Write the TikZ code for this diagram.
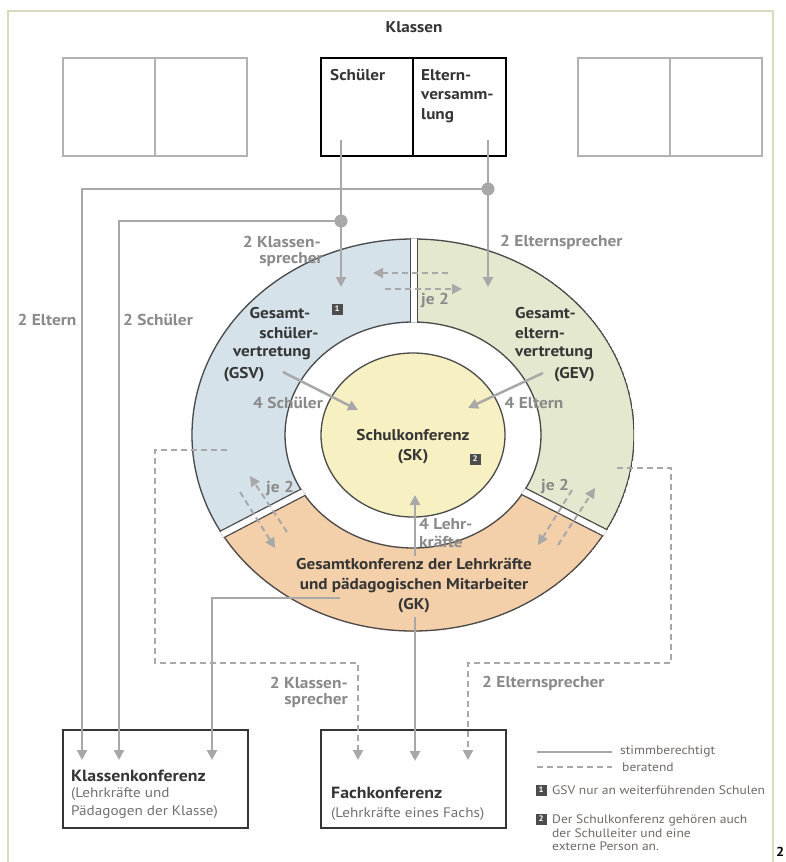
\documentclass[tikz,border=0pt]{standalone}
\usepackage{fontspec}
\setmainfont{PT Sans}[FakeStretch=1.1]
\usetikzlibrary{arrows.meta}
\definecolor{cFrame}{HTML}{DADAC0}
\definecolor{cTxt}{HTML}{353535}
\definecolor{cLab}{HTML}{8A8A8A}
\definecolor{cConn}{HTML}{A8A8A8}
\definecolor{cRing}{HTML}{4A4A4A}
\definecolor{cGSV}{HTML}{D6E2E9}
\definecolor{cGEV}{HTML}{E3E8CE}
\definecolor{cGK}{HTML}{F3CFAA}
\definecolor{cSK}{HTML}{F7F0C2}
\definecolor{cLeg}{HTML}{6E6A66}
\definecolor{cSub}{HTML}{707070}
\definecolor{cGrayBox}{HTML}{B2B2B2}
\definecolor{cSq}{HTML}{4D4D4D}
\begin{document}
\begin{tikzpicture}[x=1pt,y=1pt,
  solidc/.style={draw=cConn, line width=2.5pt},
  dashc/.style={draw=cConn, line width=2pt, dash pattern=on 6pt off 4pt},
  tipc/.style={-{Triangle[length=10pt,width=10pt]}},
  bl/.style={font=\fontsize{15.6}{18}\selectfont\bfseries, text=cTxt, inner sep=0pt},
  bt/.style={font=\fontsize{16.2}{18}\selectfont\bfseries, text=cTxt, inner sep=0pt, anchor=west},
  gl/.style={font=\fontsize{15.8}{18}\selectfont\bfseries, text=cLab, inner sep=0pt},
  sub/.style={font=\fontsize{13.8}{18}\selectfont, text=cSub, inner sep=0pt, anchor=west},
  leg/.style={font=\fontsize{12.3}{13}\selectfont, text=cLeg, inner sep=0pt, anchor=west},
  sq/.style={fill=cSq, text=white, font=\fontsize{8}{8}\selectfont\bfseries, minimum size=11pt, inner sep=0pt},
  dotc/.style={circle, fill=cConn, minimum size=13pt, inner sep=0pt},
  topbox/.style={draw=cGrayBox, line width=1.5pt},
  keybox/.style={draw=black, line width=2pt},
  botbox/.style={draw=cTxt, line width=2pt, minimum width=185pt, minimum height=98pt, inner sep=0pt},
]
\useasboundingbox (0,0) rectangle (786,-862);
\fill[white] (0,0) rectangle (786,-862);
\draw[cFrame, line width=1.5pt] (8,-880) -- (8,-11) -- (773,-11) -- (773,-880);

% top boxes
\draw[topbox] (63,-58) rectangle (247,-156) (155,-58) -- (155,-156);
\draw[topbox] (578,-58) rectangle (762,-156) (670,-58) -- (670,-156);
\draw[keybox] (321,-58) rectangle (506,-156) (413,-58) -- (413,-156);
\node[bl] (klassen) at (414,-27) {Klassen};
\node[bl, anchor=west] (schueler) at (330,-75) {Schüler};
\node[bl, anchor=west] (elt1) at (421,-75) {Eltern-};
\node[bl, anchor=west] (elt2) at (421,-96) {versamm-};
\node[bl, anchor=west] (elt3) at (421,-116) {lung};

% ring
\begin{scope}[shift={(413,-435)}]
  \begin{scope}[even odd rule]
    \clip (0,0) ellipse[x radius=221.7pt, y radius=196.7pt]
          (0,0) ellipse[x radius=127.3pt, y radius=112.3pt];
    \fill[cGSV] (0,0) -- (90:400) -- (180:400) -- (207.5:400) -- cycle;
    \fill[cGK] (0,0) -- (207.5:400) -- (270:400) -- (333:400) -- cycle;
    \fill[cGEV] (0,0) -- (333:400) -- (0:400) -- (90:400) -- cycle;
    \draw[cRing, line width=1.3pt] (0,0) ellipse[x radius=221pt, y radius=196pt];
    \draw[cRing, line width=1.3pt] (0,0) ellipse[x radius=128pt, y radius=113pt];
    \draw[cRing, line width=8.6pt] (1,100) -- (1,260);
    \draw[white, line width=6pt] (1,100) -- (1,260);
    \foreach \a in {207.5,333} {
      \draw[cRing, line width=8.6pt] (\a:100) -- (\a:260);
      \draw[white, line width=6pt] (\a:100) -- (\a:260);
    }
  \end{scope}
  \draw[cRing, line width=1.3pt, fill=cSK] (0,0) ellipse[x radius=92pt, y radius=82pt];
\end{scope}

% bottom boxes
\node[botbox] (kk) at (155.5,-779) {};
\node[botbox] (fk) at (413.5,-779) {};

% coordinates
\coordinate (sTop) at (341,-140);
\coordinate (sEnd) at (341,-287);
\coordinate (eTop) at (488,-140);
\coordinate (eEnd) at (488,-287);
\coordinate (jE) at (488,-189);
\coordinate (jS) at (341,-221);
\coordinate (kkE) at (82,-760);
\coordinate (kkS) at (119,-760);
\coordinate (kkG) at (212,-760);
\coordinate (gkL) at (340,-598);
\coordinate (gkB) at (415,-617);
\coordinate (fkG) at (415,-761);
\coordinate (gkT) at (415,-556);
\coordinate (skB) at (415,-495);
\coordinate (gsvA) at (283,-372);
\coordinate (skL) at (358,-410);
\coordinate (gevA) at (543,-373);
\coordinate (skR) at (468,-408);
\coordinate (dlA) at (227,-450);
\coordinate (fkK) at (358,-760);
\coordinate (drA) at (617,-468);
\coordinate (fkE) at (468,-760);

% solid connectors
\draw[solidc, tipc] (sTop) -- (sEnd);
\draw[solidc, tipc] (eTop) -- (eEnd);
\draw[solidc, tipc] (jE) -| (kkE);
\draw[solidc, tipc] (jS) -| (kkS);
\draw[solidc, tipc] (gkL) -| (kkG);
\draw[solidc, tipc] (gkB) -- (fkG);
\draw[solidc, tipc] (gkT) -- (skB);
\draw[solidc, tipc] (gsvA) -- (skL);
\draw[solidc, tipc] (gevA) -- (skR);
\node[dotc] (dotE) at (jE) {};
\node[dotc] (dotS) at (jS) {};

% dashed connectors
\draw[dashc, tipc] (dlA) -- (155,-450) -- (155,-663) -- (358,-663) -- (fkK);
\draw[dashc, tipc] (drA) -- (671,-468) -- (671,-663) -- (468,-663) -- (fkE);
\coordinate (t1a) at (448,-273); \coordinate (t1b) at (373,-273);
\coordinate (t2a) at (385,-289); \coordinate (t2b) at (462,-289);
\draw[dashc, tipc] (t1a) -- (t1b);
\draw[dashc, tipc] (t2a) -- (t2b);
\coordinate (l1a) at (287,-532); \coordinate (l1b) at (250,-476);
\coordinate (l2a) at (240,-492); \coordinate (l2b) at (275,-548);
\draw[dashc, tipc] (l1a) -- (l1b);
\draw[dashc, tipc] (l2a) -- (l2b);
\coordinate (r1a) at (558,-545); \coordinate (r1b) at (595,-488);
\coordinate (r2a) at (572,-490); \coordinate (r2b) at (538,-545);
\draw[dashc, tipc] (r1a) -- (r1b);
\draw[dashc, tipc] (r2a) -- (r2b);

% ring labels
\node[bl] (gsv1) at (280,-313) {Gesamt-};
\node[bl] (gsv2) at (289,-333) {schüler-};
\node[bl] (gsv3) at (272,-353) {vertretung};
\node[bl] (gsv4) at (244,-375) {(GSV)};
\node[sq] (sq1) at (337,-309) {1};
\node[bl, anchor=west] (gev1) at (515,-313) {Gesamt-};
\node[bl, anchor=west] (gev2) at (515,-333) {eltern-};
\node[bl, anchor=west] (gev3) at (515,-353) {vertretung};
\node[bl, anchor=east] (gev4) at (595,-375) {(GEV)};
\node[bl] (sk1) at (413,-435) {Schulkonferenz};
\node[bl] (sk2) at (413,-457) {(SK)};
\node[sq] (sq2) at (475,-459) {2};
\node[bl] (gk1) at (414,-564) {Gesamtkonferenz der Lehrkräfte};
\node[bl] (gk2) at (414,-586) {und pädagogischen Mitarbeiter};
\node[bl] (gk3) at (414,-606) {(GK)};

% gray labels
\node[gl, anchor=east] (ks1) at (321,-242) {2 Klassen-};
\node[gl, anchor=east] (ks2) at (323,-260) {sprecher};
\node[gl, anchor=west] (es1) at (500,-242) {2 Elternsprecher};
\node[gl] (el2) at (47,-320) {2 Eltern};
\node[gl] (sc2) at (158,-320) {2 Schüler};
\node[gl] (je1) at (435,-300) {je 2};
\node[gl] (je2) at (280,-488) {je 2};
\node[gl] (je3) at (555,-486) {je 2};
\node[gl] (s4) at (288,-403) {4 Schüler};
\node[gl] (e4) at (534,-403) {4 Eltern};
\node[gl, anchor=west] (l4a) at (419,-524) {4 Lehr-};
\node[gl, anchor=west] (l4b) at (419,-542) {kräfte};
\node[gl, anchor=east] (ks3) at (348,-683) {2 Klassen-};
\node[gl, anchor=east] (ks4) at (348,-701) {sprecher};
\node[gl, anchor=west] (es2) at (482,-683) {2 Elternsprecher};

% bottom box texts
\node[bt] (kkt) at (71,-776) {Klassenkonferenz};
\node[sub] (kks1) at (71,-794) {(Lehrkräfte und};
\node[sub] (kks2) at (71,-812) {Pädagogen der Klasse)};
\node[bt] (fkt) at (331,-793) {Fachkonferenz};
\node[sub] (fks) at (331,-814) {(Lehrkräfte eines Fachs)};

% legend
\coordinate (lg1a) at (537,-752); \coordinate (lg1b) at (612,-752);
\coordinate (lg2a) at (537,-767); \coordinate (lg2b) at (612,-767);
\draw[solidc, line width=2pt] (lg1a) -- (lg1b);
\draw[dashc] (lg2a) -- (lg2b);
\node[leg] (lgt1) at (620,-751) {stimmberechtigt};
\node[leg] (lgt2) at (622,-767) {beratend};
\node[sq] (lsq1) at (541,-790) {1};
\node[leg] (lgt3) at (552,-790) {GSV nur an weiterführenden Schulen};
\node[sq] (lsq2) at (541,-819) {2};
\node[leg] (lgt4) at (552,-820) {Der Schulkonferenz gehören auch};
\node[leg] (lgt5) at (552,-833) {der Schulleiter und eine};
\node[leg] (lgt6) at (552,-846) {externe Person an.};
\node[font=\fontsize{13}{13}\selectfont\bfseries, inner sep=0pt, anchor=west] (cut2) at (776,-852) {2};
\end{tikzpicture}
\end{document}
